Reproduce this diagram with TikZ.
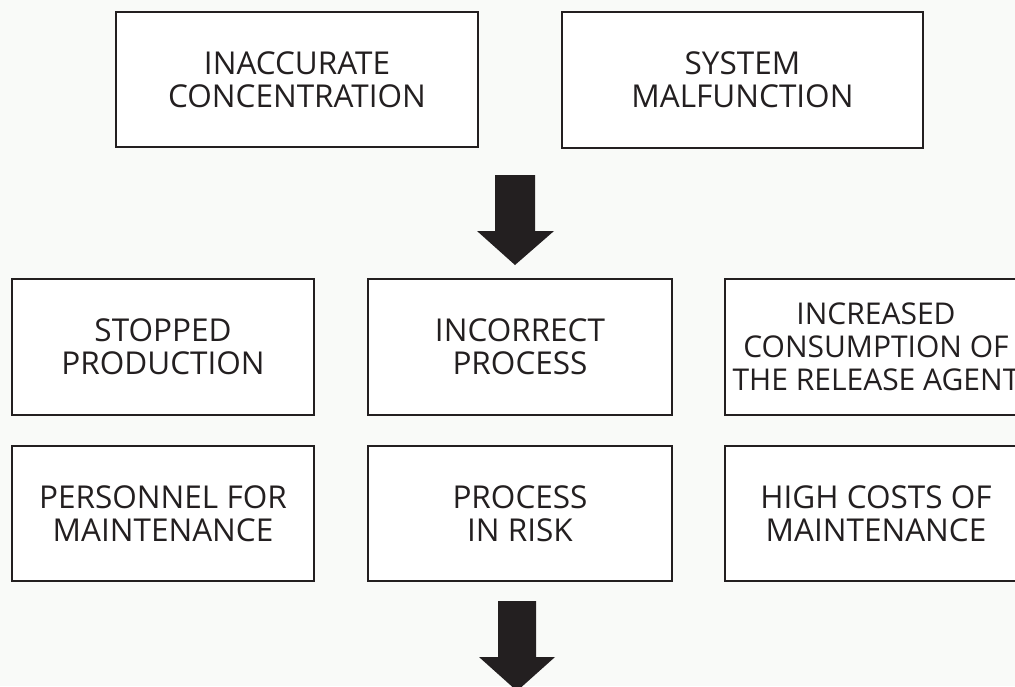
\documentclass[tikz,border=0pt]{standalone}
\usepackage{fontspec}
\setmainfont{Open Sans}
\definecolor{bg}{RGB}{249,250,248}
\definecolor{ink}{RGB}{35,31,32}
\tikzset{
  box/.style={draw=ink, line width=2.4pt, fill=white, rectangle, align=center,
    text=ink, font=\fontsize{31.5}{33}\selectfont, inner sep=0pt},
  blockarrow/.style={fill=ink, draw=none}
}
\begin{document}
\begin{tikzpicture}[x=1pt,y=-1pt]
\useasboundingbox (0,0) rectangle (1015,686);
\clip (0,0) rectangle (1015,686);
\fill[bg] (0,0) rectangle (1015,686);
\node[box, minimum width=362pt, minimum height=135pt] (inacc) at (297,79.5) {INACCURATE\\CONCENTRATION};
\node[box, minimum width=361pt, minimum height=136pt] (malf) at (742.5,80) {SYSTEM\\MALFUNCTION};
\node[box, minimum width=302pt, minimum height=136pt] (stop) at (163,347) {STOPPED\\PRODUCTION};
\node[box, minimum width=304pt, minimum height=136pt] (incorr) at (520,347) {INCORRECT\\PROCESS};
\node[box, minimum width=302pt, minimum height=136pt, font=\fontsize{30}{33}\selectfont] (incr) at (876,347) {INCREASED\\CONSUMPTION OF\\THE RELEASE AGENT};
\node[box, minimum width=302pt, minimum height=135pt] (pers) at (163,513.5) {PERSONNEL FOR\\MAINTENANCE};
\node[box, minimum width=304pt, minimum height=135pt] (risk) at (520,513.5) {PROCESS\\IN RISK};
\node[box, minimum width=302pt, minimum height=135pt] (high) at (876,513.5) {HIGH COSTS OF\\MAINTENANCE};
\fill[blockarrow] (495,175) -- (535,175) -- (535,231) -- (554,231) -- (515,265) -- (477,231) -- (495,231) -- cycle;
\fill[blockarrow] (498,601) -- (536,601) -- (536,657) -- (555,657) -- (517,691) -- (479,657) -- (498,657) -- cycle;
\end{tikzpicture}
\end{document}
